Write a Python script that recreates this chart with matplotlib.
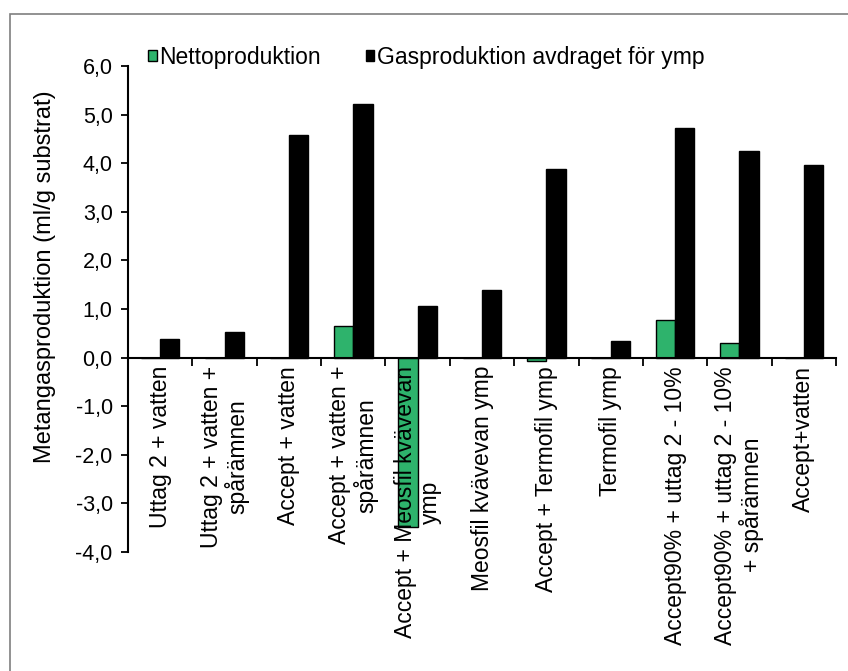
import numpy as np
import matplotlib.pyplot as plt
from matplotlib.patches import Rectangle
from matplotlib.ticker import FuncFormatter, MultipleLocator

plt.rcParams['font.family'] = ['Liberation Sans', 'DejaVu Sans']

# Försöksled och metanproduktion (ml CH4 / g substrat)
kategorier = [
    'Uttag 2 + vatten',
    'Uttag 2 + vatten +\nspårämnen',
    'Accept + vatten',
    'Accept + vatten +\nspårämnen',
    'Accept + Meosfil kvävevan\nymp',
    'Meosfil kvävevan ymp',
    'Accept + Termofil ymp',
    'Termofil ymp',
    'Accept90% + uttag 2 - 10%',
    'Accept90% + uttag 2 - 10%\n+ spårämnen',
    'Accept+vatten',
]
netto = [0.0, 0.0, 0.0, 0.66, -3.48, 0.0, -0.07, 0.0, 0.77, 0.30, 0.0]
gas_avdraget = [0.39, 0.53, 4.57, 5.22, 1.07, 1.40, 3.89, 0.34, 4.73, 4.26, 3.97]

gron = '#2eb36c'
bredd = 0.3
fs = 16.5

fig = plt.figure(figsize=(8.48, 6.71), dpi=100)
ax = fig.add_axes([128 / 848, 119 / 671, 708 / 848, 486 / 671])

x = np.arange(len(kategorier))
b1 = ax.bar(x - bredd / 2, netto, bredd, color=gron, edgecolor='black', linewidth=1, zorder=1)
b2 = ax.bar(x + bredd / 2, gas_avdraget, bredd, color='black', edgecolor='black', linewidth=1, zorder=1)

ax.set_xlim(-0.5, len(kategorier) - 0.5)
ax.set_ylim(-4, 6)
ax.yaxis.set_major_locator(MultipleLocator(1))
ax.yaxis.set_major_formatter(FuncFormatter(lambda v, _: f'{v:.1f}'.replace('.', ',')))
ax.tick_params(axis='y', direction='out', length=5, width=1.3, labelsize=15.5, pad=6)

# kategoriaxeln ligger på nollnivån
for s in ['top', 'right']:
    ax.spines[s].set_visible(False)
ax.spines['bottom'].set_position(('data', 0))
ax.spines['left'].set_linewidth(1.5)
ax.spines['bottom'].set_linewidth(1.5)

ax.set_xticks(x)
ax.set_xticklabels(kategorier, rotation=90, ha='center', va='top', fontsize=fs,
                   multialignment='center', linespacing=1.1)
ax.set_xticks(np.arange(-0.5, len(kategorier)), minor=True)
ax.tick_params(axis='x', which='major', length=0, pad=6)
ax.tick_params(axis='x', which='minor', direction='out', length=6, width=1.3)
for t in ax.get_xticklabels():
    t.set_zorder(5)

fig.text(45 / 848, 1 - 277 / 671, 'Metangasproduktion (ml/g substrat)', rotation=90,
         ha='center', va='center', fontsize=fs + 0.5)

ax.legend([b1, b2], ['Nettoproduktion', 'Gasproduktion avdraget för ymp'],
          loc='lower left', bbox_to_anchor=(0.016, 0.975), ncol=2, frameon=False,
          fontsize=fs, handlelength=0.35, handleheight=0.35, handletextpad=0.1,
          columnspacing=2.0, borderaxespad=0)

# ram runt diagramytan
fig.add_artist(Rectangle((10 / 848, -0.1), 1.0, 1.1 - 14 / 671, transform=fig.transFigure,
                         fill=False, edgecolor='#7f7f7f', linewidth=1.2))

fig.savefig('out.png', dpi=100)
